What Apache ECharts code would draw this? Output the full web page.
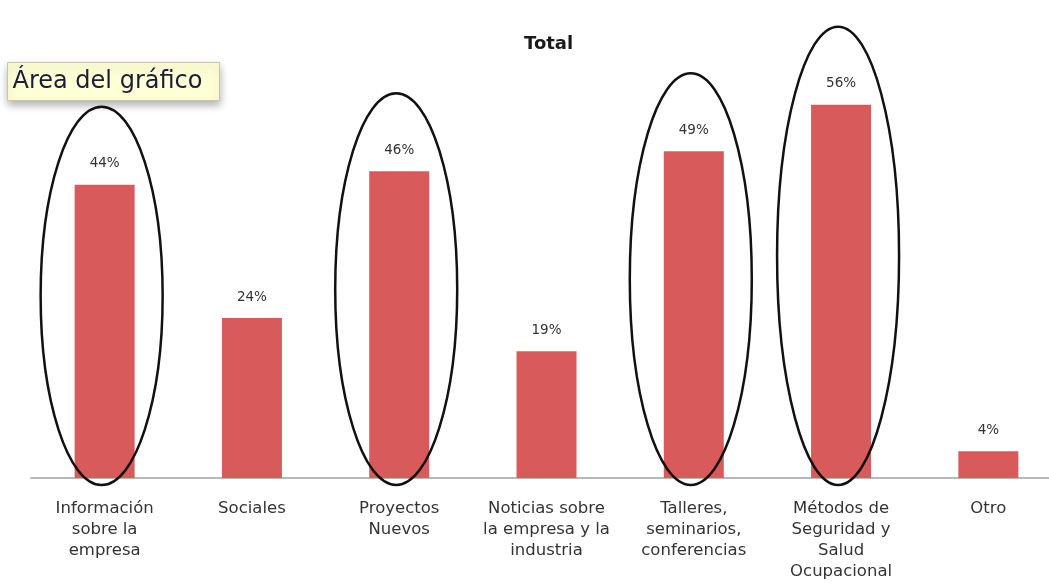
<!DOCTYPE html>
<html>
<head>
<meta charset="utf-8">
<script src="https://cdn.jsdelivr.net/npm/echarts@6/dist/echarts.min.js"></script>
<style>
  html, body { margin: 0; padding: 0; background: #fff; overflow: hidden; }
  /* the source plot runs past the right edge of the crop */
  #chart { width: 1062px; height: 588px; }
</style>
</head>
<body>
<div id="chart"></div>
<script>
// Data
const categories = [
    'Información\nsobre la\nempresa',
    'Sociales',
    'Proyectos\nNuevos',
    'Noticias sobre\nla empresa y la\nindustria',
    'Talleres,\nseminarios,\nconferencias',
    'Métodos de\nSeguridad y\nSalud\nOcupacional',
    'Otro'
];
const values = [44, 24, 46, 19, 49, 56, 4];
// categories circled in the picture
const circled = [0, 2, 4, 5];

const barColor = '#d95a5b';
const labelFont = '"DejaVu Sans", sans-serif';

const chart = echarts.init(document.getElementById('chart'));

chart.setOption({
    animation: false,
    title: {
        text: 'Total',
        left: 519,
        top: 30,
        textStyle: { fontSize: 18, fontWeight: 'bold', color: '#1a1a1a', fontFamily: labelFont }
    },
    grid: { left: 31, right: 0, top: 78, height: 400 },
    xAxis: {
        type: 'category',
        data: categories,
        axisLine: { lineStyle: { color: '#b8b8b8', width: 2 } },
        axisTick: { show: false },
        axisLabel: {
            interval: 0,
            margin: 20,
            color: '#333',
            fontSize: 16.5,
            lineHeight: 21,
            fontFamily: labelFont
        }
    },
    yAxis: {
        type: 'value',
        min: 0,
        max: 60,
        show: false
    },
    series: [{
        type: 'bar',
        data: values,
        barWidth: 60,
        itemStyle: { color: barColor },
        label: {
            show: true,
            position: 'top',
            distance: 14,
            formatter: p => p.value + '%',
            color: '#333',
            fontSize: 13.5,
            fontFamily: labelFont
        }
    }]
});

// Ellipses around the highlighted bars, placed from the axis scale
const ellipses = circled.map(i => {
    const top = chart.convertToPixel({ gridIndex: 0 }, [i, values[i]]);
    const base = chart.convertToPixel({ gridIndex: 0 }, [i, 0]);
    const y0 = top[1] - 78;
    const y1 = base[1] + 7;
    return {
        type: 'ellipse',
        shape: { cx: top[0] - 3, cy: (y0 + y1) / 2, rx: 61, ry: (y1 - y0) / 2 },
        style: { fill: 'none', stroke: '#111', lineWidth: 2.5 },
        z: 10
    };
});

chart.setOption({
    graphic: ellipses.concat([{
        type: 'group',
        left: 7,
        top: 62,
        z: 20,
        children: [{
            type: 'rect',
            shape: { x: 0, y: 0, width: 212, height: 38 },
            style: {
                fill: '#ffffd6',
                stroke: '#c8c8a8',
                lineWidth: 1,
                shadowBlur: 8,
                shadowOffsetY: 4,
                shadowColor: 'rgba(0,0,0,0.3)'
            }
        }, {
            type: 'text',
            x: 5,
            y: 19,
            style: {
                text: 'Área del gráfico',
                fontSize: 24,
                fontFamily: labelFont,
                fill: '#1c1c3a',
                verticalAlign: 'middle'
            }
        }]
    }])
});

window.addEventListener('resize', () => chart.resize());
</script>
</body>
</html>
